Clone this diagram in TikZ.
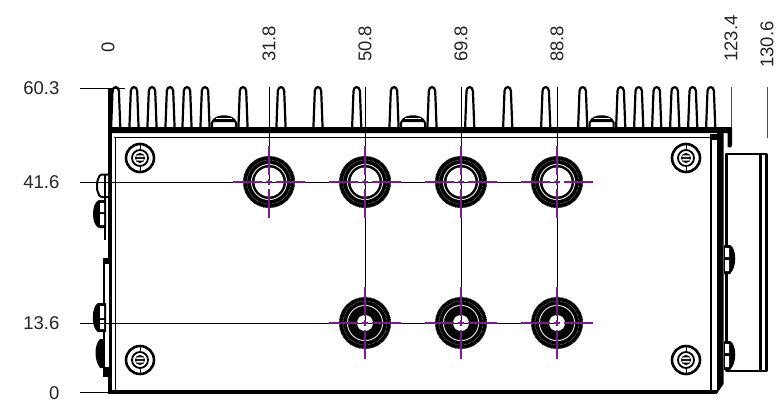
\documentclass[tikz,border=0pt]{standalone}
\usepackage{fontspec}
\setmainfont{Liberation Sans}
\definecolor{cmark}{HTML}{7A1B8E}
\tikzset{
  dimline/.style={black,line width=0.9pt},
  dimlabel/.style={font=\fontsize{18.5}{20}\selectfont,inner sep=0pt,text=black!85},
  outline/.style={black,line width=2.4pt,line join=round},
  thinline/.style={black,line width=1.2pt},
  fin/.style={black,fill=white,line width=2.2pt,line join=round},
  markline/.style={cmark,line width=1.4pt},
}
\newcommand{\finat}[1]{%
  \draw[fin] (#1-4.6,128) -- (#1-3.2,91) .. controls (#1-3,85.8) and (#1+3,85.8) .. (#1+3.2,91) -- (#1+4.6,128);
}
\newcommand{\plugat}[1]{%
  \draw[black,line width=2pt,fill=white,rounded corners=1.5pt] (#1-12,128) -- (#1-12,121) -- (#1+12,121) -- (#1+12,128);
  \fill[black] (#1-12,120.5) .. controls (#1-8,113.5) and (#1+8,113.5) .. (#1+12,120.5) -- cycle;
  \draw[white,line width=0.5pt] (#1-8,118) -- (#1+8,118);
}
\newcommand{\screwat}[2]{%
  \begin{scope}[shift={(#1,#2)}]
    \draw[black,line width=2.6pt] (0,0) circle (14);
    \draw[black,line width=1.8pt] (0,0) circle (8);
    \draw[black,line width=1pt] (0,-13) -- (0,-8) (0,8) -- (0,13);
    \fill[black] (0,0) circle (5);
    \fill[white] (-3.6,-2.6) rectangle (3.6,-0.8) (-3.6,0.8) rectangle (3.6,2.6);
  \end{scope}
}
\newcommand{\portat}[3]{%
  \begin{scope}[shift={(#1,#2)}]
    \fill[black] (0,0) circle (25.4);
    \draw[black,line width=1.4pt,dash pattern=on 0.9pt off 0.5pt] (0,0) circle (25.4);
    \draw[black!35,line width=0.4pt,dash pattern=on 0.7pt off 0.7pt] (0,0) circle (22);
    \draw[white!85!black,line width=1pt] (0,0) circle (17.6);
    \fill[white] (0,0) circle (#3);
  \end{scope}
}
\newcommand{\crossat}[3]{%
  \draw[markline] (#1-36,#2) -- (#1-#3,#2) (#1+#3,#2) -- (#1+36,#2)
                  (#1,#2-36) -- (#1,#2-#3) (#1,#2+#3) -- (#1,#2+36)
                  (#1-3,#2) -- (#1+3,#2) (#1,#2-3) -- (#1,#2+3);
}
\begin{document}
\begin{tikzpicture}[x=1pt,y=-1pt]
\useasboundingbox (0,0) rectangle (779,405);
\fill[white] (0,0) rectangle (779,405);
% right block
\draw[outline] (726.5,371) -- (766.5,371) -- (766.5,154) -- (726.5,154) -- cycle;
\draw[black,line width=2.4pt] (760.5,154) -- (760.5,371);
% fins
\foreach \fx in {115.7,134,152,170,187,205,243,281,318,356.7,394,432,469.7,507.7,545.7,582.7,620.7,638.7,656.7,674.7,692.7,710.7}{\finat{\fx}}
\foreach \fx in {224,413,601.7}{\plugat{\fx}}
% base plate
\fill[black] (108.5,127) -- (732,127) -- (732,145) .. controls (732,148) and (729,148) .. (727.5,147) -- (727.5,133) -- (108.5,133) -- cycle;
\draw[black,line width=1.6pt] (114,137.5) -- (714,137.5);
% body
\fill[black] (108,88) rectangle (112,392);
\draw[black,line width=1pt] (113,88) -- (113,92);
\draw[thinline,line width=1.5pt] (115.5,137) -- (115.5,392);
\fill[black] (108,390) rectangle (717,393.5);
\draw[thinline] (711,137) -- (711,392);
\fill[black] (717,133) -- (723.5,133) -- (723.5,384) -- (717,393.5) -- cycle;
\fill[black] (710,134) rectangle (723,140);
% left side parts
\draw[black,line width=2pt,fill=white,rounded corners=1.5pt] (108,174.5) -- (100,174.5) -- (97,182) -- (97,190) -- (100,197) -- (108,197);
\draw[black,line width=1.6pt] (105,174.5) -- (105,240);
\fill[black] (106,200) -- (99,200) .. controls (91,203) and (91,225) .. (99,228) -- (106,228) -- cycle;
\fill[white] (100,203) rectangle (104,212) (100,214) rectangle (104,225);
\draw[black,line width=1.6pt,fill=white] (109,259) -- (104,259) -- (104,375) -- (109,375);
\fill[black] (106,303) -- (98,303) .. controls (91,307) and (91,328) .. (98,332) -- (106,332) -- cycle;
\fill[white] (100,306) rectangle (104,318) (100,320) rectangle (104,329);
\fill[black] (104,339) -- (100,339) .. controls (94,345) and (94,360) .. (100,368) -- (104,368) -- cycle;
\fill[black] (103,367) rectangle (109,377);
\fill[black] (103,258) rectangle (109,264);
% right side screws
\foreach \sy in {245,341}{
  \fill[black] (724,\sy) -- (730,\sy) .. controls (737,\sy+4) and (737,\sy+22) .. (730,\sy+29) -- (724,\sy+29) -- cycle;
  \fill[white] (725,\sy+3) rectangle (729,\sy+12) (725,\sy+15) rectangle (729,\sy+26);
}
% panel screws
\screwat{140}{158}\screwat{140}{360}\screwat{686}{158}\screwat{686}{360}
% ports
\portat{269}{182}{14.5}\portat{365}{182}{14.5}\portat{461}{182}{14.5}\portat{557}{182}{14.5}
\portat{365}{323}{8}\portat{461}{323}{8}\portat{557}{323}{8}
% labels
\node[dimlabel,anchor=east] (ya) at (59.5,88) {60.3};
\node[dimlabel,anchor=east] (yb) at (59.5,182) {41.6};
\node[dimlabel,anchor=east] (yc) at (59.5,323) {13.6};
\node[dimlabel,anchor=east] (yd) at (59.5,393) {0};
\node[dimlabel,rotate=90,anchor=east] (xa) at (108,47) {\vphantom{0}};
\node[dimlabel,rotate=90,anchor=west] (xa) at (108,53) {0};
\node[dimlabel,rotate=90,anchor=west] (xb) at (269,62) {31.8};
\node[dimlabel,rotate=90,anchor=west] (xc) at (365,62) {50.8};
\node[dimlabel,rotate=90,anchor=west] (xd) at (461,62) {69.8};
\node[dimlabel,rotate=90,anchor=west] (xe) at (557,62) {88.8};
\node[dimlabel,rotate=90,anchor=west] (xf) at (731,62) {123.4};
\node[dimlabel,rotate=90,anchor=west] (xg) at (767,68) {130.6};
% dimension lines
\coordinate (pa) at (125,88);
\coordinate (pb) at (560,182);
\coordinate (pc) at (560,323);
\coordinate (pd) at (108,392);
\draw[dimline] (80,88) -- (pa);
\draw[dimline] (80,182) -- (pb);
\draw[dimline] (80,323) -- (pc);
\draw[dimline] (80,392) -- (pd);
\draw[dimline] (269,87) -- (269,182);
\draw[dimline] (365,87) -- (365,323);
\draw[dimline] (461,87) -- (461,323);
\draw[dimline] (557,87) -- (557,323);
\draw[black!70,line width=0.8pt] (731,87) -- (731,127);
\draw[black!70,line width=0.8pt] (767,87) -- (767,138);
% centre marks
\crossat{269}{182}{7}\crossat{365}{182}{7}\crossat{461}{182}{7}\crossat{557}{182}{7}
\crossat{365}{323}{7}\crossat{461}{323}{7}\crossat{557}{323}{7}
\end{tikzpicture}
\end{document}
